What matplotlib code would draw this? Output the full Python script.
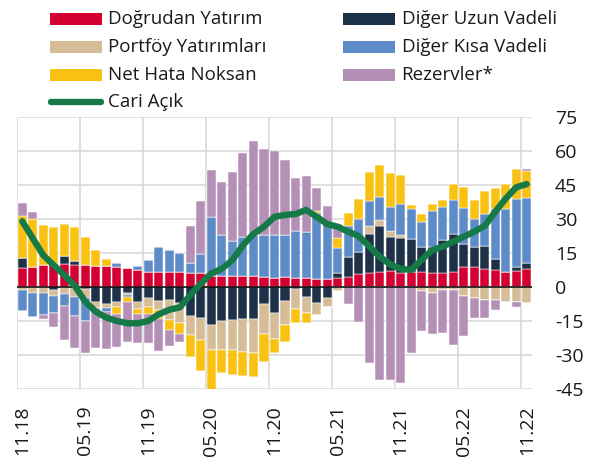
import numpy as np
import matplotlib
matplotlib.use("Agg")
import matplotlib.pyplot as plt
from matplotlib.patches import Rectangle
from matplotlib.lines import Line2D

plt.rcParams['font.family'] = ['Open Sans', 'DejaVu Sans']

# Monthly periods 11.18 .. 11.22 (12-month rolling sums, bn USD)
months = ["11.18", "12.18", "01.19", "02.19", "03.19", "04.19", "05.19", "06.19", "07.19",
          "08.19", "09.19", "10.19", "11.19", "12.19", "01.20", "02.20", "03.20", "04.20",
          "05.20", "06.20", "07.20", "08.20", "09.20", "10.20", "11.20", "12.20", "01.21",
          "02.21", "03.21", "04.21", "05.21", "06.21", "07.21", "08.21", "09.21", "10.21",
          "11.21", "12.21", "01.22", "02.22", "03.22", "04.22", "05.22", "06.22", "07.22",
          "08.22", "09.22", "10.22", "11.22"]

dogrudan = [8.5, 9.0, 9.6, 10.1, 10.1, 9.7, 9.7, 9.4, 9.3, 9.0, 8.2, 7.5, 6.6, 6.5, 6.5, 6.5,
            6.2, 6.0, 5.0, 5.0, 5.0, 5.0, 5.0, 4.3, 4.1, 4.6, 3.8, 3.8, 3.5, 3.5, 4.1, 4.6,
            5.6, 6.0, 6.8, 6.9, 6.3, 6.5, 6.8, 6.3, 6.3, 6.8, 8.7, 8.7, 7.8, 7.4, 6.8, 7.1, 7.8]
diger_uzun = [4.1, 0.0, 0.0, -1.2, 3.7, 1.6, -1.0, -6.5, -7.5, -6.8, -2.6, -6.8, -5.0, -6.0,
              -5.9, -7.2, -12.8, -13.8, -16.8, -15.0, -14.6, -14.3, -14.3, -7.5, -11.3, -6.0,
              -0.9, -4.6, -6.9, -5.0, 1.9, 8.8, 9.9, 17.6, 19.9, 15.3, 15.4, 14.7, 11.0, 11.2,
              14.4, 16.6, 10.1, 8.8, 10.4, 5.0, 0.0, 1.9, 2.6]
portfoy = [-1.5, -2.5, -2.8, -2.6, -3.2, -4.3, -3.7, -2.9, -1.9, -2.2, -0.9, -2.8, -3.7, -4.1,
           -8.7, -8.8, -8.4, -9.6, -11.0, -12.8, -13.2, -14.3, -14.6, -13.2, -11.5, -10.7,
           -9.0, -6.8, -5.3, -3.7, -1.6, 0.0, 0.0, 3.2, 2.9, 2.6, 1.2, 0.0, -1.6, -2.5, -1.5,
           -1.3, -3.8, -5.0, -5.7, -5.7, -6.8, -6.5, -6.9]
diger_kisa = [-9.0, -10.6, -9.6, -7.8, -5.1, -8.5, -10.4, 0.0, -1.6, 1.6, -1.0, 1.9, 5.4, 11.3,
              9.9, 8.7, 4.6, 8.5, 25.7, 17.9, 15.4, 17.2, 17.9, 18.7, 18.8, 18.4, 21.0, 20.6,
              29.0, 24.6, 11.0, 13.5, 14.4, 11.2, 10.3, 10.6, 13.7, 13.2, 10.9, 16.2, 14.7,
              15.0, 16.2, 12.4, 14.0, 22.0, 27.6, 29.7, 28.7]
net_hata = [18.7, 20.9, 17.6, 16.3, 14.1, 15.3, 12.2, 6.9, 3.2, -2.9, -2.2, -2.4, -3.2, -4.1,
            -4.4, -4.7, -9.6, -13.7, -18.1, -10.3, -11.0, -10.7, -11.0, -12.5, -6.2, -7.4,
            -6.2, -4.3, 1.0, 0.0, 4.4, 5.6, 8.8, 12.8, 14.0, 14.7, 12.8, 1.8, 3.5, 2.9, 2.9,
            7.1, 9.3, 8.5, 10.1, 9.1, 11.0, 13.2, 12.1]
rezervler = [5.9, 3.2, -1.6, -6.2, -15.1, -14.1, -13.8, -17.6, -16.5, -14.6, -17.5, -12.6,
             -13.0, -14.0, -7.1, -3.4, 15.9, 23.5, 20.9, 23.4, 30.3, 36.8, 41.5, 37.8, 37.1,
             33.1, 23.1, 24.6, 10.0, 7.8, 6.6, -7.6, -15.6, -33.5, -41.2, -41.2, -42.2, -29.0,
             -17.8, -18.4, -18.8, -24.3, -17.8, -8.8, -8.1, -4.4, 0.0, -2.2, 0.7]
cari_acik = [29.0, 21.5, 14.0, 9.6, 5.3, 0.5, -6.5, -10.9, -13.5, -15.0, -16.0, -16.0, -15.0,
             -12.0, -10.0, -9.0, -3.5, 1.6, 6.0, 8.1, 11.9, 18.5, 23.4, 26.6, 31.0, 31.8, 32.2,
             34.0, 31.0, 27.8, 26.6, 24.4, 22.5, 18.0, 13.4, 10.0, 8.1, 7.5, 12.0, 16.3, 17.8,
             20.0, 22.2, 24.4, 27.0, 33.2, 39.0, 44.0, 45.4]

series = [
    ("Doğrudan Yatırım", dogrudan, "#D50032"),
    ("Diğer Uzun Vadeli", diger_uzun, "#1D3148"),
    ("Portföy Yatırımları", portfoy, "#D6BD98"),
    ("Diğer Kısa Vadeli", diger_kisa, "#5E8CC8"),
    ("Net Hata Noksan", net_hata, "#F9C213"),
    ("Rezervler*", rezervler, "#B590B6"),
]
line_label, line_color = "Cari Açık", "#167A48"

W, H = 599, 467
fig = plt.figure(figsize=(W / 100, H / 100), dpi=100)
ax = fig.add_axes([17 / W, 1 - 389 / H, (532 - 17) / W, (389 - 117) / H])

x = np.arange(len(months))
pos_bottom = np.zeros(len(x))
neg_bottom = np.zeros(len(x))
for name, vals, color in series:
    v = np.asarray(vals, dtype=float)
    pos = np.where(v > 0, v, 0)
    neg = np.where(v < 0, v, 0)
    ax.bar(x, pos, bottom=pos_bottom, width=0.86, color=color,
           edgecolor="white", linewidth=0.35, zorder=2)
    ax.bar(x, neg, bottom=neg_bottom, width=0.86, color=color,
           edgecolor="white", linewidth=0.35, zorder=2)
    pos_bottom += pos
    neg_bottom += neg

ax.axhline(0, color="black", lw=1.1, zorder=3)
ax.plot(x, cari_acik, color=line_color, lw=4.6, solid_capstyle="round",
        solid_joinstyle="round", zorder=4)

ax.set_xlim(-0.5, len(x) - 0.5)
ax.set_ylim(-45, 75)
yt = np.arange(-45, 76, 15)
ax.set_yticks(yt)
ax.set_yticklabels([str(v) for v in yt])
ax.yaxis.tick_right()
ax.tick_params(axis="y", length=0, pad=16.5, labelsize=14, colors="#1a1a1a")

# vertical grid at category boundaries every 6 months, labels at the bar centres
for b in np.arange(-0.5, len(x) - 1, 6):
    ax.axvline(b, color="#D9D9D9", lw=1.2, zorder=0)
for yv in yt:
    ax.axhline(yv, color="#D9D9D9", lw=1.2, zorder=0)
ax.set_xticks(x[::6])
ax.set_xticklabels(months[::6], rotation=90)
ax.tick_params(axis="x", length=0, pad=12, labelsize=14, colors="#1a1a1a")
for s in ax.spines.values():
    s.set_visible(False)

# legend, two columns filled row by row
def fx(px):
    return px / W

def fy(py):
    return 1 - py / H

entries = [
    (series[0], 50, 19), (series[1], 343, 19),
    (series[2], 50, 47), (series[3], 343, 47),
    (series[4], 50, 75), (series[5], 343, 75),
]
for (name, _, color), px, py in entries:
    fig.add_artist(Rectangle((fx(px), fy(py + 6)), 52 / W, 12 / H,
                             transform=fig.transFigure, color=color, lw=0))
    fig.text(fx(px + 58.5), fy(py), name, fontsize=13.5, va="center", ha="left",
             color="#1a1a1a")
fig.add_artist(Line2D([fx(51), fx(101)], [fy(102), fy(102)], transform=fig.transFigure,
                      color=line_color, lw=4.6, solid_capstyle="round"))
fig.text(fx(108.5), fy(102), line_label, fontsize=13.5, va="center", ha="left",
         color="#1a1a1a")

fig.savefig("out.png", dpi=100)
